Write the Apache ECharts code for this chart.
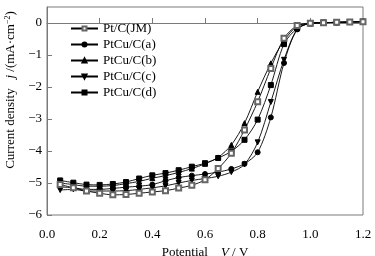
<!DOCTYPE html>
<html>
<head>
<meta charset="utf-8">
<script src="https://cdn.jsdelivr.net/npm/echarts@6/dist/echarts.min.js"></script>
<style>
    html, body { margin: 0; padding: 0; background: #fff; }
    #chart { width: 375px; height: 256px; }
</style>
</head>
<body>
<div id="chart"></div>
<script>
// potential (V)
var potential = [0.05, 0.10, 0.15, 0.20, 0.25, 0.30, 0.35, 0.40, 0.45, 0.50, 0.55, 0.60,
    0.65, 0.70, 0.75, 0.80, 0.85, 0.90, 0.95, 1.00, 1.05, 1.10, 1.15, 1.20];

var seriesNames = ['Pt/C(JM)', 'PtCu/C(a)', 'PtCu/C(b)', 'PtCu/C(c)', 'PtCu/C(d)'];

// current density j (mA/cm2)
var ptcJM = [-5.05, -5.15, -5.25, -5.32, -5.37, -5.36, -5.32, -5.28, -5.24, -5.16, -5.07, -4.90,
    -4.55, -4.07, -3.34, -2.46, -1.42, -0.48, -0.08, -0.01, 0.01, 0.02, 0.03, 0.04];
var ptcuA = [-5.12, -5.15, -5.20, -5.20, -5.17, -5.13, -5.10, -5.05, -4.93, -4.83, -4.77, -4.72,
    -4.66, -4.56, -4.40, -4.04, -2.95, -1.25, -0.20, -0.01, 0.01, 0.02, 0.03, 0.04];
var ptcuB = [-5.00, -5.05, -5.10, -5.10, -5.08, -5.02, -4.95, -4.85, -4.77, -4.67, -4.55, -4.40,
    -4.20, -3.81, -3.13, -2.15, -1.26, -0.55, -0.10, -0.01, 0.01, 0.02, 0.03, 0.04];
var ptcuC = [-5.22, -5.20, -5.25, -5.25, -5.25, -5.24, -5.20, -5.15, -5.09, -5.00, -4.92, -4.86,
    -4.79, -4.66, -4.42, -3.73, -2.47, -1.15, -0.20, -0.01, 0.01, 0.02, 0.03, 0.04];
var ptcuD = [-4.92, -4.99, -5.05, -5.06, -5.03, -4.97, -4.86, -4.76, -4.69, -4.60, -4.49, -4.38,
    -4.22, -4.01, -3.65, -3.02, -1.94, -0.66, -0.17, -0.01, 0.01, 0.02, 0.03, 0.04];

var xTicks = [0.0, 0.2, 0.4, 0.6, 0.8, 1.0, 1.2];
var yTicks = [-6, -5, -4, -3, -2, -1, 0];

function pairs(ys) {
    return potential.map(function(x, i) { return [x, ys[i]]; });
}

function drawChart() {
    var dom = document.getElementById("chart");
    var myChart = echarts.init(dom);
    var font = '"Liberation Serif", "Times New Roman", serif';
    var axisColor = '#7a7a7a';
    var symbols = [
        { symbol: 'emptyRect', rotate: 0, size: 5 },
        { symbol: 'circle', rotate: 0, size: 5 },
        { symbol: 'triangle', rotate: 0, size: 5 },
        { symbol: 'triangle', rotate: 180, size: 5 },
        { symbol: 'rect', rotate: 0, size: 5 }
    ];
    var allData = [ptcJM, ptcuA, ptcuB, ptcuC, ptcuD];

    var series = seriesNames.map(function(name, i) {
        return {
            name: name,
            type: 'line',
            smooth: 0.3,
            data: pairs(allData[i]),
            symbol: symbols[i].symbol,
            symbolRotate: symbols[i].rotate,
            symbolSize: symbols[i].size,
            showAllSymbol: true,
            lineStyle: { color: '#000', width: 0.9 },
            itemStyle: { color: i === 0 ? '#666' : '#000', borderColor: i === 0 ? '#666' : '#000', borderWidth: 1 },
            emphasis: { disabled: true },
            z: 10 - i
        };
    });

    var option = {
        animation: false,
        textStyle: { fontFamily: font },
        grid: {
            left: 47,
            right: 12,
            top: 7,
            bottom: 41,
            outerBoundsMode: 'none',
            show: true,
            borderColor: axisColor,
            borderWidth: 1
        },
        legend: {
            orient: 'vertical',
            left: 65,
            top: 17,
            itemWidth: 27,
            itemHeight: 5,
            itemGap: 3,
            data: seriesNames,
            textStyle: { fontFamily: font, fontSize: 13, color: '#000', lineHeight: 13 }
        },
        xAxis: {
            type: 'value',
            min: 0,
            max: 1.2,
            interval: 0.2,
            name: '{n|Potential}    {v|V} / V',
            nameLocation: 'middle',
            nameGap: 25,
            nameTextStyle: {
                fontFamily: font,
                fontSize: 13,
                color: '#000',
                rich: {
                    n: { fontFamily: font, fontSize: 13, color: '#000' },
                    v: { fontFamily: font, fontSize: 13, color: '#000', fontStyle: 'italic' }
                }
            },
            axisLine: { lineStyle: { color: axisColor, width: 1 } },
            axisTick: { inside: true, length: 5, lineStyle: { color: axisColor } },
            axisLabel: {
                margin: 13,
                fontFamily: font,
                fontSize: 13,
                color: '#000',
                formatter: function(v) { return v.toFixed(1); }
            },
            splitLine: { show: false }
        },
        yAxis: {
            type: 'value',
            min: -6,
            max: 0.5,
            interval: 1,
            name: 'Current density   {j|j} /(mA·cm{s|−2})',
            nameLocation: 'middle',
            nameGap: 28,
            nameTextStyle: {
                fontFamily: font,
                fontSize: 13,
                color: '#000',
                padding: [0, 0, 0, 42],
                rich: {
                    j: { fontFamily: font, fontSize: 13, color: '#000', fontStyle: 'italic' },
                    s: { fontFamily: font, fontSize: 8, color: '#000', verticalAlign: 'top', padding: [0, 0, 6, 0] }
                }
            },
            axisLine: { lineStyle: { color: axisColor, width: 1 } },
            axisTick: { inside: true, length: 5, lineStyle: { color: axisColor } },
            axisLabel: {
                margin: 5,
                fontFamily: font,
                fontSize: 13,
                color: '#000',
                showMaxLabel: false,
                formatter: function(v) {
                    if (yTicks.indexOf(v) < 0) return '';
                    return v < 0 ? '\u2212' + Math.abs(v) : String(v);
                }
            },
            splitLine: { show: false }
        },
        series: series
    };

    if (option && typeof option === "object") {
        myChart.setOption(option, true);
        window.onresize = myChart.resize;
    }
}

drawChart();
</script>
</body>
</html>
